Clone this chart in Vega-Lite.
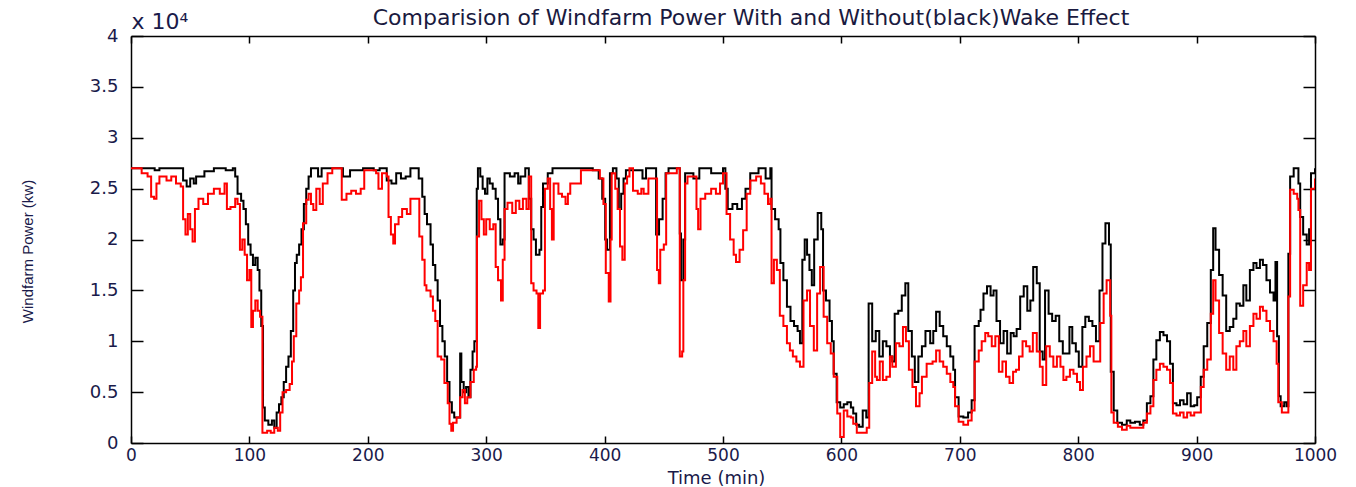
{
  "$schema": "https://vega.github.io/schema/vega-lite/v6.json",
  "width": 1184,
  "height": 407,
  "autosize": {"type": "none"},
  "padding": {"left": 131, "top": 36, "right": 41, "bottom": 44},
  "background": "#ffffff",
  "title": {
    "text": "Comparision of Windfarm Power With and Without(black)Wake Effect",
    "anchor": "middle",
    "frame": "group",
    "dx": 28,
    "dy": 27,
    "offset": 7,
    "font": "DejaVu Sans",
    "fontSize": 22,
    "fontWeight": "normal",
    "color": "#1a1a40"
  },
  "config": {
    "view": {"stroke": null},
    "axis": {
      "grid": false,
      "domainColor": "#000000",
      "domainWidth": 1.5,
      "tickColor": "#000000",
      "tickWidth": 1.5,
      "labelFont": "DejaVu Sans",
      "labelFontSize": 18,
      "labelColor": "#1a1a4a",
      "titleFont": "DejaVu Sans",
      "titleFontWeight": "normal",
      "titleColor": "#1a1a4a"
    }
  },
  "datasets": {
    "without": [
      {"t":0,"p":27000},{"t":8,"p":27000},{"t":20,"p":26800},{"t":24,"p":27000},{"t":40,"p":27000},{"t":44,"p":25800},{"t":47,"p":25200},{"t":50,"p":26000},{"t":53,"p":25500},{"t":55,"p":26200},{"t":62,"p":26700},{"t":70,"p":27000},{"t":80,"p":26800},{"t":86,"p":27000},{"t":88,"p":26200},{"t":90,"p":24500},{"t":93,"p":23800},{"t":95,"p":23000},{"t":97,"p":21500},{"t":99,"p":19500},{"t":101,"p":18500},{"t":103,"p":17500},{"t":105,"p":18200},{"t":107,"p":17000},{"t":108.5,"p":15000},{"t":110,"p":11500},{"t":111.5,"p":3500},{"t":113,"p":2200},{"t":116,"p":1800},{"t":119,"p":2200},{"t":121,"p":1500},{"t":123,"p":3000},{"t":125,"p":3800},{"t":127,"p":4500},{"t":129,"p":6000},{"t":131,"p":7500},{"t":133,"p":8500},{"t":135,"p":11000},{"t":137,"p":15000},{"t":138.5,"p":17700},{"t":140,"p":18500},{"t":142,"p":19500},{"t":144,"p":21000},{"t":146,"p":23500},{"t":148,"p":25000},{"t":150,"p":26200},{"t":152,"p":27000},{"t":158,"p":26200},{"t":161,"p":27000},{"t":175,"p":27000},{"t":179,"p":26200},{"t":185,"p":26800},{"t":196,"p":27000},{"t":205,"p":26800},{"t":210,"p":27000},{"t":216,"p":25800},{"t":220,"p":25500},{"t":224,"p":26500},{"t":228,"p":26000},{"t":232,"p":26200},{"t":236,"p":27000},{"t":240,"p":27000},{"t":243,"p":26000},{"t":246,"p":24200},{"t":248,"p":22500},{"t":250,"p":21500},{"t":253,"p":19500},{"t":255,"p":17500},{"t":257,"p":16000},{"t":259,"p":14000},{"t":261,"p":11500},{"t":263,"p":10000},{"t":265,"p":8500},{"t":267,"p":6000},{"t":269,"p":4000},{"t":271,"p":3000},{"t":273,"p":2500},{"t":276,"p":2500},{"t":278,"p":8800},{"t":279,"p":6000},{"t":281,"p":5000},{"t":283,"p":5500},{"t":285,"p":4500},{"t":286.7,"p":7200},{"t":288.5,"p":9000},{"t":290,"p":10000},{"t":292,"p":25000},{"t":293,"p":27000},{"t":295,"p":26200},{"t":297,"p":25000},{"t":299,"p":24500},{"t":301,"p":26000},{"t":303,"p":25500},{"t":305.5,"p":25000},{"t":308,"p":24000},{"t":310,"p":22000},{"t":312,"p":19500},{"t":314,"p":20000},{"t":315.5,"p":26500},{"t":320,"p":26200},{"t":324,"p":26500},{"t":327,"p":25500},{"t":329,"p":26200},{"t":333,"p":27000},{"t":336,"p":24000},{"t":338,"p":21000},{"t":340,"p":20000},{"t":342,"p":18500},{"t":345,"p":19000},{"t":346.5,"p":23200},{"t":348,"p":25500},{"t":352,"p":26500},{"t":356,"p":27000},{"t":390,"p":26800},{"t":395,"p":26000},{"t":398,"p":24000},{"t":400.5,"p":20000},{"t":402,"p":19000},{"t":404.5,"p":26500},{"t":407,"p":27000},{"t":410,"p":26000},{"t":412,"p":23000},{"t":414,"p":24500},{"t":416,"p":26000},{"t":418,"p":26800},{"t":432,"p":26000},{"t":435,"p":27000},{"t":442,"p":27000},{"t":443.5,"p":20500},{"t":446,"p":22000},{"t":449,"p":24000},{"t":451.5,"p":26500},{"t":454,"p":27000},{"t":462,"p":27000},{"t":463.5,"p":20600},{"t":464.5,"p":16000},{"t":466.5,"p":20000},{"t":468,"p":26500},{"t":475,"p":26000},{"t":480,"p":27000},{"t":490,"p":26500},{"t":500,"p":27000},{"t":502,"p":25000},{"t":504,"p":23000},{"t":508,"p":23500},{"t":512,"p":23000},{"t":516,"p":24000},{"t":519,"p":25000},{"t":523,"p":26500},{"t":530,"p":27000},{"t":536,"p":26000},{"t":540,"p":27000},{"t":541,"p":23000},{"t":544,"p":22000},{"t":547,"p":21000},{"t":548.5,"p":17700},{"t":551,"p":16000},{"t":554,"p":13400},{"t":557,"p":12000},{"t":560,"p":11500},{"t":563,"p":11000},{"t":565,"p":9800},{"t":567,"p":18000},{"t":569,"p":20000},{"t":571,"p":18500},{"t":573,"p":17000},{"t":575,"p":15500},{"t":577,"p":20000},{"t":580,"p":22600},{"t":583,"p":21000},{"t":584.5,"p":15000},{"t":587,"p":14000},{"t":590,"p":12000},{"t":592,"p":10000},{"t":593.5,"p":6800},{"t":596,"p":4000},{"t":599,"p":3500},{"t":602,"p":3800},{"t":605,"p":4000},{"t":608,"p":3500},{"t":610,"p":2900},{"t":612.5,"p":1800},{"t":615,"p":1600},{"t":618,"p":3200},{"t":621,"p":2500},{"t":623,"p":13700},{"t":626,"p":10000},{"t":629,"p":11000},{"t":632,"p":8500},{"t":635,"p":10000},{"t":638,"p":9500},{"t":641,"p":8500},{"t":643,"p":8000},{"t":645,"p":12700},{"t":648,"p":13000},{"t":651,"p":14500},{"t":654,"p":15700},{"t":656.5,"p":11000},{"t":659.5,"p":8500},{"t":662,"p":6000},{"t":665,"p":8500},{"t":668,"p":9500},{"t":671,"p":11000},{"t":675,"p":9800},{"t":677.6,"p":11000},{"t":680,"p":12900},{"t":683,"p":11500},{"t":686,"p":10500},{"t":689,"p":9500},{"t":692,"p":8500},{"t":694.5,"p":7200},{"t":696,"p":4500},{"t":699,"p":2600},{"t":703,"p":2500},{"t":707,"p":3000},{"t":710,"p":4200},{"t":712.5,"p":11500},{"t":716,"p":12000},{"t":717.5,"p":13100},{"t":720,"p":14700},{"t":723,"p":15400},{"t":726,"p":14500},{"t":728.5,"p":15000},{"t":731,"p":12000},{"t":734,"p":9800},{"t":737,"p":11000},{"t":740,"p":8800},{"t":743,"p":10800},{"t":745.5,"p":10500},{"t":748,"p":11200},{"t":751,"p":14400},{"t":754,"p":15400},{"t":757,"p":13000},{"t":759.6,"p":14000},{"t":762,"p":17300},{"t":765,"p":15700},{"t":767.5,"p":9000},{"t":770,"p":8200},{"t":772,"p":15000},{"t":775,"p":12700},{"t":778,"p":12000},{"t":781,"p":12500},{"t":784,"p":10000},{"t":787,"p":8800},{"t":789.6,"p":8800},{"t":792.6,"p":11400},{"t":795,"p":9800},{"t":798,"p":9000},{"t":800.5,"p":7500},{"t":803.5,"p":11400},{"t":806,"p":12400},{"t":809,"p":12000},{"t":812,"p":11500},{"t":815,"p":10000},{"t":818,"p":15000},{"t":820.5,"p":19600},{"t":823,"p":21600},{"t":826,"p":19500},{"t":827.5,"p":7000},{"t":830,"p":3200},{"t":833,"p":2000},{"t":837,"p":1800},{"t":841,"p":2200},{"t":844,"p":2000},{"t":848,"p":2100},{"t":852,"p":1800},{"t":855,"p":2200},{"t":858,"p":3900},{"t":861,"p":4600},{"t":863.5,"p":8200},{"t":866,"p":10100},{"t":869,"p":10900},{"t":872,"p":10600},{"t":875,"p":10000},{"t":877.6,"p":7800},{"t":880,"p":3900},{"t":883,"p":3700},{"t":886,"p":4200},{"t":889,"p":3800},{"t":892,"p":4900},{"t":895,"p":3600},{"t":898,"p":3700},{"t":900.5,"p":4500},{"t":903.5,"p":6500},{"t":906,"p":9500},{"t":909,"p":11800},{"t":912,"p":17000},{"t":914,"p":21100},{"t":916,"p":19000},{"t":919,"p":16500},{"t":922,"p":14500},{"t":925,"p":11000},{"t":928,"p":11400},{"t":931,"p":12200},{"t":933.6,"p":13700},{"t":936.5,"p":13500},{"t":939.5,"p":15500},{"t":942,"p":14000},{"t":945,"p":17000},{"t":948,"p":17700},{"t":950.6,"p":17200},{"t":953.5,"p":18000},{"t":956,"p":17500},{"t":959,"p":16000},{"t":962,"p":14800},{"t":965,"p":14000},{"t":966.6,"p":17800},{"t":968,"p":10500},{"t":969.5,"p":4600},{"t":971,"p":3600},{"t":974,"p":4000},{"t":976,"p":3600},{"t":977.5,"p":18600},{"t":979,"p":26200},{"t":982,"p":27000},{"t":985,"p":27000},{"t":986,"p":25500},{"t":987.5,"p":22200},{"t":990,"p":20500},{"t":993,"p":19500},{"t":995,"p":21000},{"t":996.6,"p":26500},{"t":1000,"p":27000}
    ],
    "with": [
      {"t":0,"p":27000},{"t":9,"p":26500},{"t":14,"p":26200},{"t":17,"p":24200},{"t":19.5,"p":24000},{"t":21.5,"p":25500},{"t":24,"p":26200},{"t":30,"p":25800},{"t":34,"p":26200},{"t":38,"p":25500},{"t":42,"p":25200},{"t":44,"p":22000},{"t":46,"p":20500},{"t":48,"p":22500},{"t":50,"p":21000},{"t":52,"p":19800},{"t":54,"p":23000},{"t":57,"p":24000},{"t":61,"p":23500},{"t":65,"p":24500},{"t":70,"p":25000},{"t":75,"p":24500},{"t":79,"p":25500},{"t":81,"p":23000},{"t":84,"p":23200},{"t":88,"p":24000},{"t":90,"p":23500},{"t":92,"p":19000},{"t":94,"p":20000},{"t":96,"p":18500},{"t":98,"p":16000},{"t":100,"p":17000},{"t":101.6,"p":11400},{"t":103,"p":13000},{"t":105,"p":14000},{"t":107,"p":13000},{"t":109,"p":12400},{"t":111,"p":1000},{"t":115,"p":1200},{"t":118,"p":1000},{"t":121,"p":1500},{"t":124,"p":1200},{"t":126,"p":3000},{"t":128,"p":5000},{"t":131,"p":5200},{"t":134,"p":5800},{"t":136,"p":8000},{"t":137.5,"p":10500},{"t":139.6,"p":13700},{"t":142,"p":15000},{"t":143.5,"p":16300},{"t":145.3,"p":21600},{"t":148,"p":23900},{"t":150,"p":24500},{"t":152,"p":23500},{"t":154,"p":22900},{"t":156.5,"p":25000},{"t":159.4,"p":23500},{"t":162,"p":25500},{"t":166,"p":26500},{"t":170,"p":27000},{"t":176,"p":27000},{"t":178,"p":23900},{"t":182,"p":24500},{"t":186,"p":24800},{"t":190,"p":24500},{"t":194,"p":25000},{"t":197,"p":26800},{"t":207,"p":26500},{"t":209,"p":25000},{"t":212,"p":26500},{"t":216,"p":26200},{"t":217.5,"p":22200},{"t":219.5,"p":20500},{"t":221.5,"p":19600},{"t":223,"p":21500},{"t":226,"p":22200},{"t":229,"p":23000},{"t":233,"p":22500},{"t":236,"p":24000},{"t":240,"p":24000},{"t":243.5,"p":20300},{"t":246,"p":18000},{"t":248,"p":15500},{"t":249.5,"p":15000},{"t":253,"p":14400},{"t":255,"p":13000},{"t":257,"p":12000},{"t":259,"p":8500},{"t":262,"p":8200},{"t":264.7,"p":5900},{"t":267.5,"p":3900},{"t":269,"p":1900},{"t":270.5,"p":1200},{"t":272,"p":2000},{"t":275,"p":2500},{"t":278,"p":4500},{"t":280,"p":5200},{"t":282,"p":3900},{"t":284,"p":4500},{"t":286.7,"p":6000},{"t":289.5,"p":7200},{"t":291.5,"p":7500},{"t":292.2,"p":20300},{"t":294,"p":23800},{"t":296,"p":22000},{"t":298,"p":20500},{"t":300,"p":22000},{"t":303,"p":21000},{"t":306,"p":21500},{"t":308,"p":17300},{"t":310,"p":16000},{"t":312.5,"p":14000},{"t":314,"p":18000},{"t":315.5,"p":23000},{"t":318,"p":23600},{"t":322,"p":22600},{"t":325,"p":23800},{"t":328,"p":23000},{"t":331,"p":24000},{"t":334,"p":23000},{"t":336,"p":26200},{"t":338,"p":15700},{"t":340,"p":15000},{"t":342.5,"p":14700},{"t":344,"p":11300},{"t":345.5,"p":14700},{"t":348,"p":15000},{"t":349.6,"p":25000},{"t":352,"p":26000},{"t":354,"p":23000},{"t":355.5,"p":20000},{"t":357,"p":25500},{"t":361,"p":24500},{"t":364,"p":24200},{"t":367,"p":23500},{"t":369,"p":24500},{"t":371,"p":25500},{"t":377,"p":25500},{"t":380,"p":26800},{"t":394,"p":26800},{"t":396,"p":26000},{"t":399,"p":23500},{"t":401,"p":16700},{"t":403.5,"p":13900},{"t":405,"p":20000},{"t":406,"p":26500},{"t":409,"p":25000},{"t":411,"p":23000},{"t":413,"p":19300},{"t":415,"p":18000},{"t":417,"p":25500},{"t":419,"p":26200},{"t":421,"p":27000},{"t":424,"p":24800},{"t":428,"p":24500},{"t":431,"p":25000},{"t":433,"p":24500},{"t":437,"p":26000},{"t":443,"p":26000},{"t":444.3,"p":17000},{"t":445.8,"p":15700},{"t":447,"p":19000},{"t":450,"p":19500},{"t":452,"p":26500},{"t":461,"p":27000},{"t":463.5,"p":8500},{"t":465.5,"p":9000},{"t":466.5,"p":16000},{"t":468,"p":25500},{"t":470,"p":26200},{"t":475,"p":26200},{"t":477.6,"p":23000},{"t":479,"p":21000},{"t":481,"p":24000},{"t":485,"p":24500},{"t":490,"p":25000},{"t":494,"p":24500},{"t":497.5,"p":25500},{"t":500,"p":26500},{"t":503,"p":22500},{"t":506,"p":20000},{"t":509,"p":18500},{"t":511,"p":17800},{"t":514,"p":19000},{"t":517,"p":20900},{"t":520,"p":24500},{"t":523,"p":25800},{"t":528,"p":26200},{"t":532,"p":25500},{"t":535,"p":24500},{"t":538,"p":23500},{"t":540,"p":24000},{"t":541,"p":15700},{"t":543,"p":18000},{"t":545.5,"p":17000},{"t":548,"p":12500},{"t":551,"p":11500},{"t":554,"p":9800},{"t":556.5,"p":9100},{"t":559,"p":8500},{"t":562,"p":8000},{"t":565,"p":7500},{"t":568,"p":14000},{"t":571,"p":15000},{"t":573.5,"p":11500},{"t":576.7,"p":9100},{"t":579.5,"p":14700},{"t":582,"p":17300},{"t":585,"p":12400},{"t":588,"p":9800},{"t":591,"p":8800},{"t":593.5,"p":6500},{"t":596.5,"p":2900},{"t":599,"p":600},{"t":602,"p":3200},{"t":605,"p":2600},{"t":608,"p":2500},{"t":610,"p":1900},{"t":613,"p":1000},{"t":619,"p":1000},{"t":621.4,"p":1500},{"t":623.5,"p":5900},{"t":626,"p":9000},{"t":628.5,"p":6500},{"t":630,"p":6200},{"t":632.4,"p":8000},{"t":635,"p":6200},{"t":638,"p":6500},{"t":641,"p":8500},{"t":643,"p":7500},{"t":646,"p":9800},{"t":649,"p":9500},{"t":652,"p":11400},{"t":654.5,"p":10000},{"t":657,"p":7200},{"t":660,"p":5500},{"t":663,"p":3600},{"t":666,"p":4900},{"t":668,"p":6500},{"t":672,"p":7800},{"t":677,"p":8000},{"t":680,"p":9100},{"t":683,"p":8000},{"t":686,"p":7500},{"t":689,"p":6800},{"t":692,"p":6000},{"t":694.5,"p":5500},{"t":696,"p":3600},{"t":699,"p":2100},{"t":703,"p":1800},{"t":707,"p":2200},{"t":710,"p":3200},{"t":712.5,"p":8000},{"t":716,"p":9100},{"t":718.5,"p":10000},{"t":721.5,"p":10800},{"t":724,"p":10500},{"t":727,"p":9500},{"t":730,"p":10500},{"t":733,"p":7000},{"t":736,"p":8000},{"t":739,"p":6500},{"t":742,"p":5900},{"t":745,"p":7000},{"t":747.5,"p":7200},{"t":750,"p":8500},{"t":753,"p":10000},{"t":756,"p":9500},{"t":759,"p":9000},{"t":761.7,"p":10800},{"t":765,"p":9000},{"t":767.6,"p":7500},{"t":770,"p":5700},{"t":773,"p":9500},{"t":776,"p":8500},{"t":779,"p":7500},{"t":782,"p":8500},{"t":785,"p":7500},{"t":787.5,"p":6200},{"t":790,"p":6500},{"t":793,"p":7200},{"t":796,"p":6800},{"t":799,"p":6000},{"t":801.5,"p":5200},{"t":804,"p":7500},{"t":807,"p":8500},{"t":810,"p":9500},{"t":813,"p":8000},{"t":816,"p":8000},{"t":818.6,"p":11800},{"t":821.5,"p":14700},{"t":824,"p":16000},{"t":827,"p":12500},{"t":828,"p":3000},{"t":830,"p":2000},{"t":833.5,"p":1600},{"t":837,"p":1300},{"t":841,"p":1700},{"t":844,"p":1500},{"t":852,"p":1500},{"t":855,"p":2000},{"t":858,"p":2900},{"t":861,"p":3600},{"t":863.5,"p":6200},{"t":866,"p":7200},{"t":869,"p":7800},{"t":872,"p":7500},{"t":875,"p":7200},{"t":877.6,"p":5900},{"t":880,"p":2900},{"t":883,"p":2700},{"t":886,"p":3000},{"t":889,"p":2500},{"t":892,"p":3000},{"t":895,"p":2700},{"t":898,"p":3000},{"t":901,"p":3000},{"t":903.6,"p":5500},{"t":906,"p":7200},{"t":909,"p":8200},{"t":912,"p":12700},{"t":914,"p":16000},{"t":916,"p":14000},{"t":919,"p":10800},{"t":922,"p":8800},{"t":925,"p":7200},{"t":928,"p":8500},{"t":931,"p":7200},{"t":933.6,"p":9500},{"t":936.5,"p":10000},{"t":939.5,"p":11000},{"t":942,"p":9500},{"t":945,"p":11500},{"t":948,"p":12700},{"t":950.6,"p":12200},{"t":953.5,"p":13400},{"t":956,"p":13000},{"t":959,"p":12000},{"t":962,"p":11000},{"t":965,"p":10000},{"t":967.6,"p":7800},{"t":969,"p":4000},{"t":972,"p":3000},{"t":976,"p":3000},{"t":977.5,"p":14400},{"t":979,"p":24900},{"t":982,"p":24500},{"t":985,"p":24000},{"t":986,"p":22900},{"t":987.5,"p":13500},{"t":990,"p":15500},{"t":993,"p":17700},{"t":995,"p":17000},{"t":996.6,"p":25000},{"t":1000,"p":26000}
    ]
  },
  "layer": [
    {
      "data": {"name": "without"},
      "mark": {"type": "line", "color": "#000000", "strokeWidth": 2, "interpolate": "step-after", "clip": true},
      "encoding": {
        "x": {
          "field": "t", "type": "quantitative",
          "scale": {"domain": [0, 1000], "nice": false, "zero": false},
          "axis": {
            "orient": "bottom",
            "values": [0,100,200,300,400,500,600,700,800,900,1000],
            "format": "d",
            "tickSize": -7,
            "labelFontSize": 17,
            "labelPadding": 11,
            "labelFlush": false,
            "labelOverlap": false,
            "title": "Time (min)",
            "titleFontSize": 18,
            "titleX": 585,
            "titleY": 40,
            "titleAlign": "center",
            "titleAnchor": "middle",
            "titleBaseline": "alphabetic"
          }
        },
        "y": {
          "field": "p", "type": "quantitative",
          "scale": {"domain": [0, 40000], "nice": false, "zero": false},
          "axis": {
            "orient": "left",
            "values": [0,5000,10000,15000,20000,25000,30000,35000,40000],
            "labelExpr": "'' + datum.value / 10000",
            "tickSize": -12,
            "labelPadding": 25,
            "labelFlush": false,
            "labelOverlap": false,
            "title": "Windfarm Power (kw)",
            "titleFont": "Liberation Sans",
            "titleFontSize": 15,
            "titleAngle": 270,
            "titleX": -104,
            "titleY": 215,
            "titleAlign": "center",
            "titleBaseline": "middle"
          }
        }
      }
    },
    {
      "data": {"name": "with"},
      "mark": {"type": "line", "color": "#ff0000", "strokeWidth": 2, "interpolate": "step-after", "clip": true},
      "encoding": {
        "x": {
          "field": "t", "type": "quantitative",
          "scale": {"domain": [0, 1000], "nice": false, "zero": false},
          "axis": {
            "orient": "top",
            "values": [0,100,200,300,400,500,600,700,800,900,1000],
            "tickSize": -7,
            "labels": false,
            "title": "x 10⁴",
            "titleFontSize": 22,
            "titleX": 0,
            "titleY": -8,
            "titleAngle": 0,
            "titleAlign": "left",
            "titleBaseline": "alphabetic"
          }
        },
        "y": {
          "field": "p", "type": "quantitative",
          "scale": {"domain": [0, 40000], "nice": false, "zero": false},
          "axis": {
            "orient": "right",
            "values": [0,5000,10000,15000,20000,25000,30000,35000,40000],
            "tickSize": -12,
            "labels": false,
            "title": null
          }
        }
      }
    }
  ],
  "resolve": {"axis": {"x": "independent", "y": "independent"}}
}
